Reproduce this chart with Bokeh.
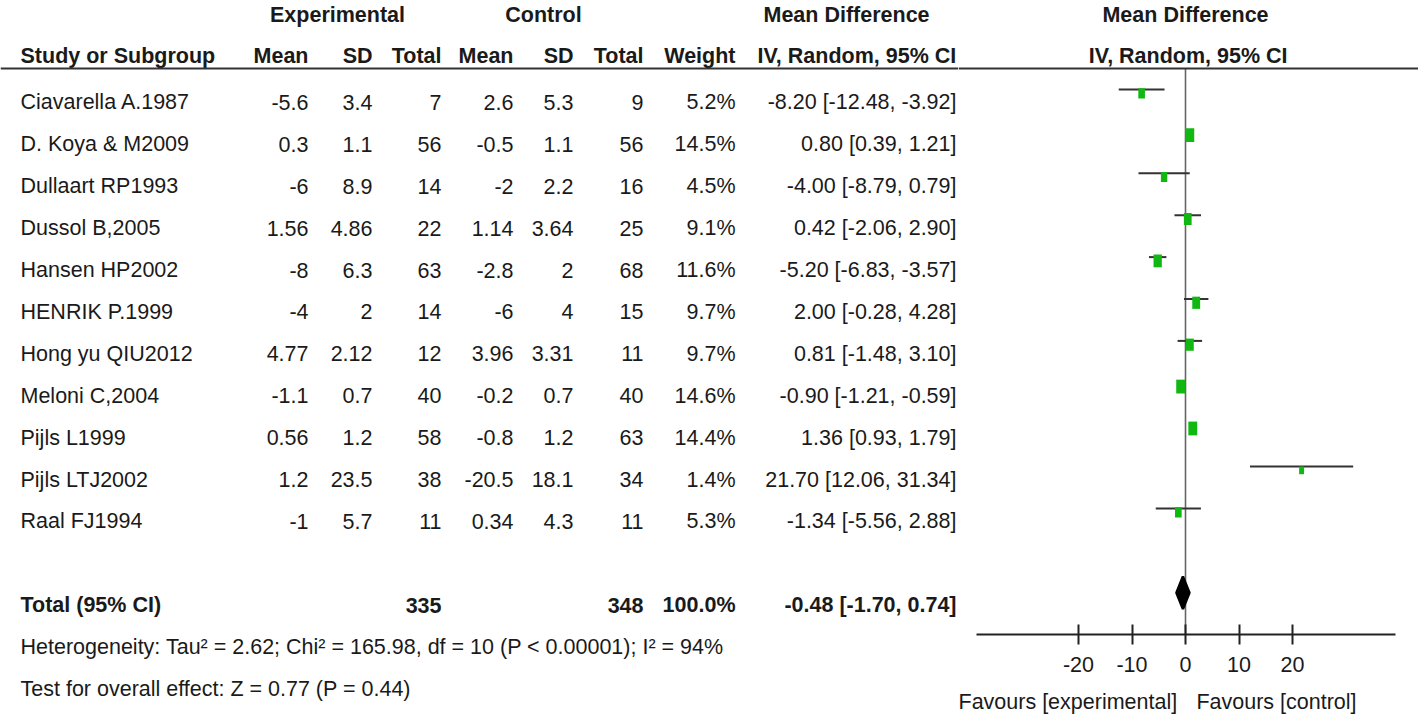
from bokeh.plotting import figure
from bokeh.models import Range1d, Span, LinearAxis, FixedTicker
from bokeh.layouts import row
from bokeh.core.properties import value
from bokeh.embed import file_html
from bokeh.resources import INLINE

# ---------------- data ----------------
studies = ["Ciavarella A.1987", "D. Koya & M2009", "Dullaart RP1993", "Dussol B,2005",
           "Hansen HP2002", "HENRIK P.1999", "Hong yu QIU2012", "Meloni C,2004",
           "Pijls L1999", "Pijls LTJ2002", "Raal FJ1994"]
exp_mean = ["-5.6", "0.3", "-6", "1.56", "-8", "-4", "4.77", "-1.1", "0.56", "1.2", "-1"]
exp_sd = ["3.4", "1.1", "8.9", "4.86", "6.3", "2", "2.12", "0.7", "1.2", "23.5", "5.7"]
exp_total = [7, 56, 14, 22, 63, 14, 12, 40, 58, 38, 11]
ctl_mean = ["2.6", "-0.5", "-2", "1.14", "-2.8", "-6", "3.96", "-0.2", "-0.8", "-20.5", "0.34"]
ctl_sd = ["5.3", "1.1", "2.2", "3.64", "2", "4", "3.31", "0.7", "1.2", "18.1", "4.3"]
ctl_total = [9, 56, 16, 25, 68, 15, 11, 40, 63, 34, 11]
weight = [5.2, 14.5, 4.5, 9.1, 11.6, 9.7, 9.7, 14.6, 14.4, 1.4, 5.3]
md = [-8.20, 0.80, -4.00, 0.42, -5.20, 2.00, 0.81, -0.90, 1.36, 21.70, -1.34]
md_lo = [-12.48, 0.39, -8.79, -2.06, -6.83, -0.28, -1.48, -1.21, 0.93, 12.06, -5.56]
md_hi = [-3.92, 1.21, 0.79, 2.90, -3.57, 4.28, 3.10, -0.59, 1.79, 31.34, 2.88]

total_label = "Total (95% CI)"
total_exp = 335
total_ctl = 348
total_weight = 100.0
total_md, total_lo, total_hi = -0.48, -1.70, 0.74
heterogeneity = "Heterogeneity: Tau\u00b2 = 2.62; Chi\u00b2 = 165.98, df = 10 (P < 0.00001); I\u00b2 = 94%"
overall = "Test for overall effect: Z = 0.77 (P = 0.44)"
tick_values = [-20, -10, 0, 10, 20]
tick_labels = ["-20", "-10", "0", "10", "20"]
favours_left = "Favours [experimental]"
favours_right = "Favours [control]"

# ---------------- style ----------------
FONT = "Liberation Sans"
FS = "21.5px"
TXT = "#1a1a1a"
GREEN = "#12b812"

n = len(studies)
rows = list(range(n))
total_row = n + 1
het_row = n + 2
test_row = n + 3
hdr1 = -2.08
hdr2 = -1.10
line_row = -0.81
Y_TOP = -2.434

left = figure(width=958, height=725, x_range=Range1d(0, 958),
              y_range=Range1d(14.869, Y_TOP), x_axis_type=None, y_axis_type=None,
              output_backend="svg", toolbar_location=None, min_border=0,
              frame_align=False)
left.grid.visible = False
left.outline_line_color = None


def ltext(fig, x, y, t, align="left", bold=False):
    fig.text(x=x, y=y, text=t, text_font=value(FONT), text_font_size=value(FS),
             text_align=align, text_baseline="middle", text_color=TXT,
             text_font_style="bold" if bold else "normal")


# headers
ltext(left, [337, 543], [hdr1, hdr1], ["Experimental", "Control"], "center", True)
ltext(left, [763], [hdr1], ["Mean Difference"], "left", True)
ltext(left, [20], [hdr2], ["Study or Subgroup"], "left", True)
ltext(left, [308, 372, 441, 513, 573, 643, 735], [hdr2] * 7,
      ["Mean", "SD", "Total", "Mean", "SD", "Total", "Weight"], "right", True)
ltext(left, [757], [hdr2], ["IV, Random, 95% CI"], "left", True)

# study rows
ltext(left, [20] * n, rows, studies, "left")
ltext(left, [308] * n, rows, exp_mean, "right")
ltext(left, [372] * n, rows, exp_sd, "right")
ltext(left, [441] * n, rows, [str(v) for v in exp_total], "right")
ltext(left, [513] * n, rows, ctl_mean, "right")
ltext(left, [573] * n, rows, ctl_sd, "right")
ltext(left, [643] * n, rows, [str(v) for v in ctl_total], "right")
ltext(left, [735] * n, rows, [f"{w:.1f}%" for w in weight], "right")
ltext(left, [956] * n, rows, [f"{m:.2f} [{a:.2f}, {b:.2f}]" for m, a, b in zip(md, md_lo, md_hi)], "right")

# total rows
ltext(left, [20], [total_row], [total_label], "left", True)
ltext(left, [441, 643, 735], [total_row] * 3,
      [str(total_exp), str(total_ctl), f"{total_weight:.1f}%"], "right", True)
ltext(left, [956], [total_row], [f"{total_md:.2f} [{total_lo:.2f}, {total_hi:.2f}]"], "right", True)
ltext(left, [20, 20], [het_row, test_row], [heterogeneity, overall], "left")

left.add_layout(Span(location=line_row, dimension="width", line_color="#333333", line_width=2))

# ---------------- forest ----------------
AXIS_ROW = 12.697
right = figure(width=460, height=725, x_range=Range1d(-42.43, 43.55),
               y_range=Range1d(AXIS_ROW, Y_TOP), x_axis_type=None, y_axis_type=None,
               output_backend="svg", toolbar_location=None,
               min_border_left=0, min_border_right=0, min_border_top=0, min_border_bottom=91,
               frame_align=False)
right.grid.visible = False
right.outline_line_color = None

right.add_layout(Span(location=line_row, dimension="width", line_color="#333333", line_width=2))

ltext(right, [0], [hdr1], ["Mean Difference"], "center", True)
ltext(right, [0.5], [hdr2], ["IV, Random, 95% CI"], "center", True)

# zero line
right.segment(x0=[0], y0=[line_row], x1=[0], y1=[AXIS_ROW], line_color="#666666", line_width=1.6)

yf = [r - 0.31 for r in rows]
ysq = [r - 0.22 for r in rows]
right.segment(x0=md_lo, y0=yf, x1=md_hi, y1=yf, line_color="#333333", line_width=2)
sq_w = [3.2 + 1.5 * (w ** 0.5) for w in weight]
sq_h = [s * 1.55 for s in sq_w]
right.rect(x=md, y=ysq, width=sq_w, height=sq_h, width_units="screen", height_units="screen",
           fill_color=GREEN, line_color=None)

yd = total_row - 0.3
dh = 0.39
right.patch(x=[total_lo, total_md, total_hi, total_md], y=[yd, yd - dh, yd, yd + dh],
            fill_color="black", line_color="black", line_width=2.5)

axis = LinearAxis(ticker=FixedTicker(ticks=tick_values),
                  major_label_overrides={v: l for v, l in zip(tick_values, tick_labels)},
                  bounds=(-39.1, 39.3))
axis.axis_line_width = 2
axis.axis_line_color = "#222222"
axis.major_tick_in = 10
axis.major_tick_out = 10
axis.major_tick_line_width = 2
axis.major_tick_line_color = "#222222"
axis.minor_tick_line_color = None
axis.major_label_text_font = FONT
axis.major_label_text_font_size = FS
axis.major_label_text_color = TXT
axis.major_label_standoff = 12
right.add_layout(axis, "below")

# second axis row carrying the "Favours" captions as labels
fav_pos = [-22.0, 17.0]
fav_axis = LinearAxis(ticker=FixedTicker(ticks=fav_pos),
                      major_label_overrides={fav_pos[0]: favours_left, fav_pos[1]: favours_right})
fav_axis.axis_line_color = None
fav_axis.major_tick_line_color = None
fav_axis.minor_tick_line_color = None
fav_axis.major_tick_in = 0
fav_axis.major_tick_out = 0
fav_axis.major_label_text_font = FONT
fav_axis.major_label_text_font_size = FS
fav_axis.major_label_text_color = TXT
fav_axis.major_label_standoff = 15
right.add_layout(fav_axis, "below")

layout = row(left, right)
open("out.html", "w").write(file_html(layout, INLINE))
